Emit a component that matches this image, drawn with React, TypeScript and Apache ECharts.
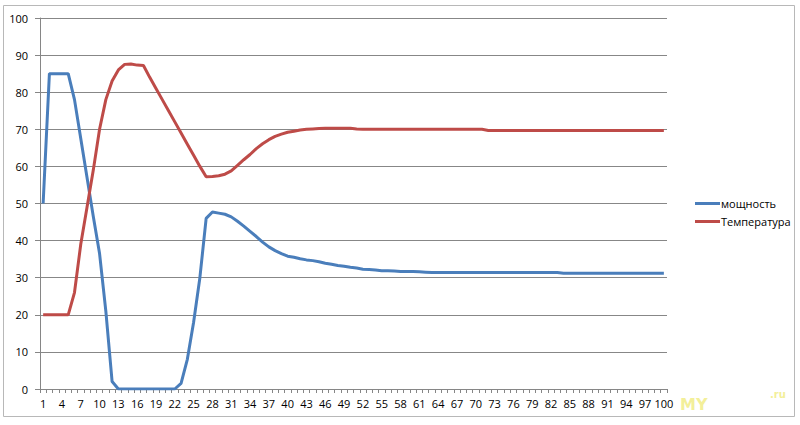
import React, { useEffect, useRef } from "react";
import * as echarts from "echarts";

const categories: string[] = Array.from({ length: 100 }, (_, i) => String(i + 1));

const powerName = "мощность";
const tempName = "Температура";

const power: number[] = [
  50, 85, 85, 85, 85, 78, 67.5, 57, 46.5, 36.5,
  21, 2, 0, 0, 0, 0, 0, 0, 0, 0,
  0, 0, 1.5, 8, 18, 30, 46, 47.7, 47.4, 47.1,
  46.4, 45.2, 43.9, 42.5, 41.1, 39.6, 38.3, 37.3, 36.5, 35.8,
  35.5, 35.1, 34.8, 34.6, 34.3, 33.9, 33.6, 33.3, 33.1, 32.8,
  32.6, 32.3, 32.2, 32.1, 31.9, 31.9, 31.8, 31.7, 31.7, 31.7,
  31.6, 31.5, 31.4, 31.4, 31.4, 31.4, 31.4, 31.4, 31.4, 31.4,
  31.4, 31.4, 31.4, 31.4, 31.4, 31.4, 31.4, 31.4, 31.4, 31.4,
  31.4, 31.4, 31.4, 31.2, 31.2, 31.2, 31.2, 31.2, 31.2, 31.2,
  31.2, 31.2, 31.2, 31.2, 31.2, 31.2, 31.2, 31.2, 31.2, 31.2,
];

const temperature: number[] = [
  20, 20, 20, 20, 20, 26, 39, 49, 59, 70,
  78, 83, 86, 87.5, 87.6, 87.3, 87.2, 84, 81, 78,
  75, 72, 69, 66, 63, 60, 57.2, 57.3, 57.5, 57.9,
  58.8, 60.3, 61.8, 63.2, 64.8, 66.1, 67.2, 68.1, 68.7, 69.2,
  69.5, 69.8, 70, 70.1, 70.2, 70.3, 70.3, 70.3, 70.3, 70.3,
  70.1, 70, 70, 70, 70, 70, 70, 70, 70, 70,
  70, 70, 70, 70, 70, 70, 70, 70, 70, 70,
  70, 69.7, 69.7, 69.7, 69.7, 69.7, 69.7, 69.7, 69.7, 69.7,
  69.7, 69.7, 69.7, 69.7, 69.7, 69.7, 69.7, 69.7, 69.7, 69.7,
  69.7, 69.7, 69.7, 69.7, 69.7, 69.7, 69.7, 69.7, 69.7, 69.7,
];

const FONT = "'Open Sans', 'DejaVu Sans', sans-serif";

export default function App() {
  const ref = useRef<HTMLDivElement>(null);
  useEffect(() => {
    if (!ref.current) return;
    const chart = echarts.init(ref.current, null, { renderer: "svg" });
    chart.setOption({
      animation: false,
      backgroundColor: "#ffffff",
      graphic: [
        {
          type: "rect",
          shape: { x: 3.5, y: 5.5, width: 791, height: 411 },
          style: { fill: "none", stroke: "#b8b8b8", lineWidth: 1 },
          silent: true,
        },
        {
          type: "text",
          left: 680,
          top: 396,
          style: { text: "MY", fill: "#f3ef9a", font: "bold 16px 'DejaVu Sans', sans-serif" },
          silent: true,
        },
        {
          type: "text",
          left: 770,
          top: 389,
          style: { text: ".ru", fill: "#f3ef9a", font: "bold 10px 'DejaVu Sans', sans-serif" },
          silent: true,
        },
      ],
      grid: { left: 40, right: 133, top: 18, bottom: 36, containLabel: false },
      legend: {
        orient: "vertical",
        left: 690,
        top: 193,
        itemWidth: 25,
        itemHeight: 3,
        itemGap: 7,
        icon: "rect",
        textStyle: { fontFamily: FONT, fontSize: 11, color: "#000", padding: [0, 0, 0, -4] },
        data: [powerName, tempName],
      },
      xAxis: {
        type: "category",
        data: categories,
        boundaryGap: true,
        axisLine: { show: true, lineStyle: { color: "#868686", width: 1 } },
        axisTick: { show: true, interval: 0, length: 4, lineStyle: { color: "#868686" } },
        axisLabel: {
          interval: 2,
          color: "#000",
          fontFamily: FONT,
          fontSize: 11,
          margin: 9,
        },
        splitLine: { show: false },
      },
      yAxis: {
        type: "value",
        min: 0,
        max: 100,
        interval: 10,
        axisLine: { show: true, lineStyle: { color: "#868686", width: 1 } },
        axisTick: { show: true, length: 5, lineStyle: { color: "#868686" } },
        axisLabel: { color: "#000", fontFamily: FONT, fontSize: 11, margin: 12 },
        splitLine: { show: true, lineStyle: { color: "#878787", width: 1 } },
      },
      series: [
        {
          name: powerName,
          type: "line",
          data: power,
          symbol: "none",
          lineStyle: { color: "#4a7ebb", width: 3 },
          itemStyle: { color: "#4a7ebb" },
        },
        {
          name: tempName,
          type: "line",
          data: temperature,
          symbol: "none",
          lineStyle: { color: "#be4b48", width: 3 },
          itemStyle: { color: "#be4b48" },
        },
      ],
    });
    return () => chart.dispose();
  }, []);
  return (
    <div
      ref={ref}
      style={{ position: "fixed", left: 0, top: 0, width: 800, height: 425 }}
    />
  );
}
